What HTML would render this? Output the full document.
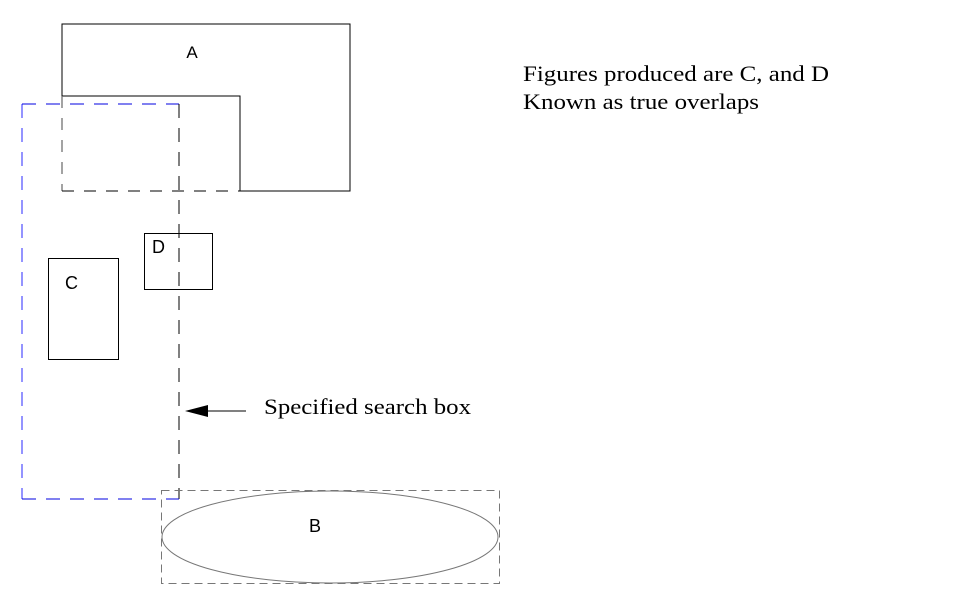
<!DOCTYPE html>
<html><head><style>body{margin:0;background:#fff}svg{display:block}</style></head><body>
<svg width="978" height="593" viewBox="0 0 978 593" xmlns="http://www.w3.org/2000/svg">
<rect width="978" height="593" fill="#fff"/>
<polyline points="62,96 62,24 350,24 350,191 240,191 240,96 62,96" fill="none" stroke="#000" stroke-width="1"/>
<line x1="62" y1="96" x2="62" y2="191" stroke="#666" stroke-dasharray="12,10" stroke-width="1.2"/>
<line x1="62" y1="191" x2="240" y2="191" stroke="#000" stroke-dasharray="12,10" stroke-width="1"/>
<text x="192" y="58" font-family="Liberation Sans, sans-serif" font-size="17" text-anchor="middle">A</text>
<line x1="22" y1="104" x2="22" y2="499" stroke="#7070ff" stroke-dasharray="14,10" stroke-width="1.5"/>
<line x1="22" y1="104" x2="179" y2="104" stroke="#0000e0" stroke-dasharray="14,10" stroke-width="1"/>
<line x1="179" y1="104" x2="179" y2="499" stroke="#000" stroke-dasharray="14,10" stroke-width="1"/>
<line x1="22" y1="499" x2="179" y2="499" stroke="#0000e0" stroke-dasharray="14,10" stroke-width="1"/>
<rect x="144.5" y="233.5" width="68" height="56" fill="none" stroke="#000"/>
<text x="152" y="253" font-family="Liberation Sans, sans-serif" font-size="18">D</text>
<rect x="48.5" y="258.5" width="70" height="101" fill="none" stroke="#000"/>
<text x="65" y="289" font-family="Liberation Sans, sans-serif" font-size="18">C</text>
<rect x="161.5" y="490.5" width="338" height="93" fill="none" stroke="#777" stroke-dasharray="8,5"/>
<ellipse cx="330" cy="537" rx="168" ry="46" fill="none" stroke="#777"/>
<text x="315" y="532" font-family="Liberation Sans, sans-serif" font-size="18" text-anchor="middle">B</text>
<line x1="207" y1="411" x2="246" y2="411" stroke="#000"/>
<polygon points="185,411 208,405 208,417" fill="#000"/>
<text x="264" y="414" font-family="Liberation Serif, serif" font-size="22" textLength="207" lengthAdjust="spacingAndGlyphs">Specified search box</text>
<text x="523" y="81" font-family="Liberation Serif, serif" font-size="22" textLength="306" lengthAdjust="spacingAndGlyphs">Figures produced are C, and D</text>
<text x="523" y="109" font-family="Liberation Serif, serif" font-size="22" textLength="236" lengthAdjust="spacingAndGlyphs">Known as true overlaps</text>
</svg>
</body></html>
